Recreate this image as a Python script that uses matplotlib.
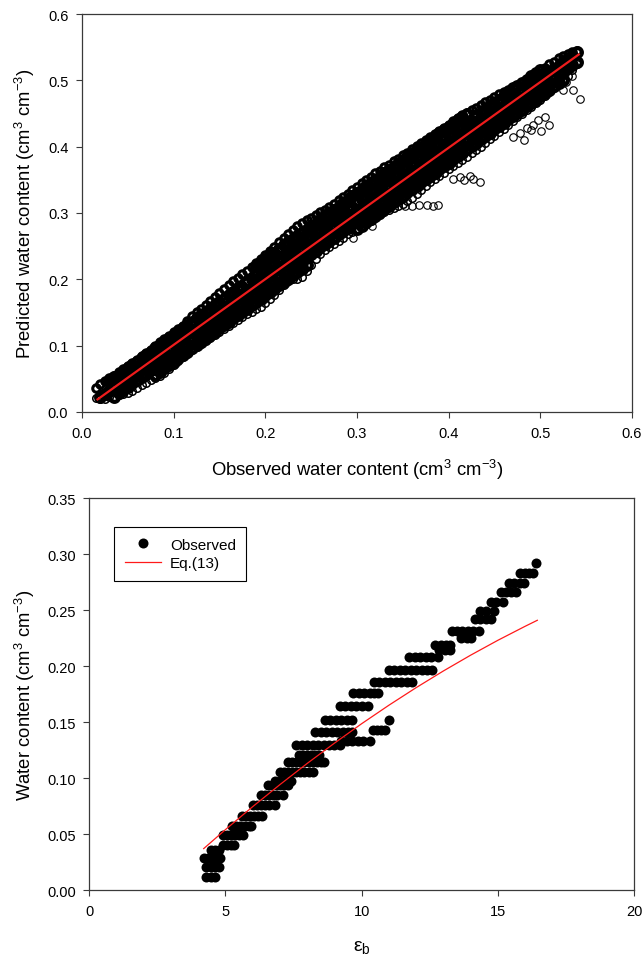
import numpy as np
import matplotlib.pyplot as plt
from matplotlib.lines import Line2D

plt.rcParams['font.family'] = ['Liberation Sans', 'DejaVu Sans']
plt.rcParams['mathtext.fontset'] = 'custom'
plt.rcParams['mathtext.rm'] = 'Liberation Sans'
plt.rcParams['mathtext.it'] = 'Liberation Sans:italic'

# ---------------- top panel: observed vs predicted (cm3 cm-3) ----------------
obs_wc = [0.015, 0.020, 0.025, 0.030, 0.035, 0.040, 0.045, 0.050, 0.055, 0.060,
          0.065, 0.070, 0.075, 0.080, 0.085, 0.090, 0.095, 0.100, 0.105, 0.110,
          0.115, 0.120, 0.125, 0.130, 0.135, 0.140, 0.145, 0.150, 0.155, 0.160,
          0.165, 0.170, 0.175, 0.180, 0.185, 0.190, 0.195, 0.200, 0.205, 0.210,
          0.215, 0.220, 0.225, 0.230, 0.235, 0.240, 0.245, 0.250, 0.255, 0.260,
          0.265, 0.270, 0.275, 0.280, 0.285, 0.290, 0.295, 0.300, 0.305, 0.310,
          0.315, 0.320, 0.325, 0.330, 0.335, 0.340, 0.345, 0.350, 0.355, 0.360,
          0.365, 0.370, 0.375, 0.380, 0.385, 0.390, 0.395, 0.400, 0.405, 0.410,
          0.415, 0.420, 0.425, 0.430, 0.435, 0.440, 0.445, 0.450, 0.455, 0.460,
          0.465, 0.470, 0.475, 0.480, 0.485, 0.490, 0.495, 0.500, 0.505, 0.510,
          0.515, 0.520, 0.525, 0.530, 0.535, 0.540]

# upper edge of the cloud
pred_top = [0.036, 0.042, 0.047, 0.051, 0.055, 0.060, 0.065, 0.069, 0.074, 0.079,
            0.084, 0.089, 0.094, 0.099, 0.105, 0.110, 0.115, 0.120, 0.125, 0.130,
            0.137, 0.144, 0.150, 0.156, 0.162, 0.168, 0.174, 0.180, 0.186, 0.191,
            0.197, 0.202, 0.208, 0.213, 0.219, 0.224, 0.230, 0.236, 0.242, 0.249,
            0.256, 0.262, 0.268, 0.275, 0.281, 0.285, 0.289, 0.293, 0.297, 0.301,
            0.305, 0.309, 0.314, 0.319, 0.324, 0.329, 0.334, 0.339, 0.345, 0.350,
            0.355, 0.360, 0.364, 0.369, 0.373, 0.378, 0.382, 0.387, 0.391, 0.396,
            0.401, 0.405, 0.410, 0.414, 0.419, 0.423, 0.428, 0.433, 0.438, 0.443,
            0.447, 0.451, 0.455, 0.459, 0.463, 0.467, 0.471, 0.475, 0.479, 0.482,
            0.485, 0.488, 0.492, 0.496, 0.501, 0.505, 0.510, 0.515, 0.519, 0.524,
            0.528, 0.533, 0.537, 0.540, 0.543, 0.544]

# lower edge of the cloud
pred_bot = [0.021, 0.020, 0.020, 0.022, 0.023, 0.025, 0.027, 0.029, 0.032, 0.036,
            0.040, 0.044, 0.048, 0.051, 0.055, 0.059, 0.065, 0.071, 0.077, 0.083,
            0.088, 0.093, 0.098, 0.102, 0.107, 0.111, 0.116, 0.120, 0.125, 0.129,
            0.134, 0.139, 0.143, 0.147, 0.151, 0.155, 0.159, 0.164, 0.170, 0.177,
            0.184, 0.191, 0.198, 0.200, 0.201, 0.204, 0.212, 0.222, 0.231, 0.238,
            0.244, 0.249, 0.254, 0.258, 0.263, 0.268, 0.272, 0.276, 0.280, 0.284,
            0.288, 0.292, 0.297, 0.301, 0.305, 0.308, 0.311, 0.314, 0.318, 0.323,
            0.329, 0.335, 0.340, 0.346, 0.351, 0.356, 0.361, 0.366, 0.371, 0.376,
            0.380, 0.385, 0.390, 0.395, 0.400, 0.406, 0.411, 0.416, 0.422, 0.427,
            0.433, 0.438, 0.444, 0.449, 0.455, 0.460, 0.466, 0.471, 0.477, 0.482,
            0.488, 0.494, 0.500, 0.507, 0.515, 0.524]

# inner rows of the cloud (each starts at the given observed value)
row_a_start = 0.190
row_a = [0.220, 0.226, 0.230, 0.236, 0.240, 0.246, 0.251, 0.256, 0.261, 0.266,
         0.270, 0.275, 0.280, 0.284, 0.290, 0.295, 0.300, 0.305, 0.309, 0.315,
         0.320, 0.325, 0.330, 0.334, 0.340, 0.345, 0.350, 0.354, 0.360, 0.365,
         0.370, 0.374, 0.380, 0.385, 0.390, 0.394, 0.400, 0.405, 0.410, 0.414,
         0.420, 0.425, 0.430, 0.434, 0.440, 0.445, 0.450]
row_b_start = 0.030
row_b = [0.046, 0.052, 0.056, 0.061, 0.066, 0.071, 0.076, 0.081, 0.086, 0.091,
         0.096, 0.101, 0.106, 0.112, 0.116, 0.121, 0.126, 0.131, 0.136, 0.141,
         0.146, 0.151, 0.156, 0.161, 0.166, 0.171, 0.176, 0.181, 0.186, 0.189,
         0.196, 0.201, 0.206, 0.211, 0.216, 0.221, 0.226, 0.231, 0.236, 0.243,
         0.246, 0.251, 0.256, 0.261, 0.266, 0.271, 0.276, 0.281, 0.286, 0.291,
         0.296, 0.301, 0.306, 0.309, 0.316, 0.321, 0.326, 0.331, 0.336, 0.341,
         0.346, 0.351, 0.356, 0.361, 0.366, 0.371, 0.374, 0.381, 0.386, 0.391,
         0.396, 0.401, 0.406, 0.411, 0.416, 0.421, 0.426, 0.431, 0.436, 0.439,
         0.446, 0.451, 0.456, 0.461, 0.466, 0.471, 0.476, 0.481, 0.488, 0.491,
         0.496, 0.501, 0.506, 0.511, 0.516]
row_c_start = 0.020
row_c = [0.022, 0.027, 0.032, 0.037, 0.042, 0.047, 0.052, 0.057, 0.062, 0.067,
         0.072, 0.077, 0.082, 0.087, 0.092, 0.097, 0.102, 0.107, 0.112, 0.117,
         0.122, 0.127, 0.132, 0.137, 0.142, 0.147, 0.152, 0.157, 0.162, 0.167,
         0.172, 0.177, 0.182, 0.187, 0.192, 0.197, 0.202, 0.207, 0.212, 0.217,
         0.222, 0.227, 0.232, 0.237, 0.242, 0.247, 0.252, 0.257, 0.262, 0.267,
         0.272, 0.277, 0.282, 0.287, 0.292, 0.297, 0.302, 0.307, 0.312, 0.317,
         0.322, 0.327, 0.332, 0.337, 0.342, 0.347, 0.352, 0.357, 0.362, 0.367,
         0.372, 0.377, 0.382, 0.387, 0.392, 0.397, 0.402, 0.407, 0.412, 0.417,
         0.422, 0.427, 0.432, 0.437, 0.442, 0.447, 0.452, 0.457, 0.462, 0.467,
         0.472, 0.477, 0.482, 0.487, 0.492, 0.497, 0.502, 0.507, 0.512, 0.517,
         0.522, 0.527, 0.532, 0.537, 0.542]
row_d_start = 0.035
row_d = [0.023, 0.028, 0.033, 0.038, 0.043, 0.048, 0.053, 0.058, 0.063, 0.068,
         0.073, 0.078, 0.083, 0.088, 0.093, 0.098, 0.103, 0.108, 0.113, 0.118,
         0.123, 0.128, 0.133, 0.138, 0.143, 0.148, 0.153, 0.158, 0.163, 0.168,
         0.173, 0.178, 0.183, 0.188, 0.193, 0.198, 0.203, 0.208, 0.213, 0.218,
         0.223, 0.228, 0.233, 0.238, 0.243, 0.248, 0.253, 0.258, 0.263, 0.268,
         0.273, 0.278, 0.283, 0.288, 0.293, 0.298, 0.303, 0.308, 0.313, 0.318,
         0.323, 0.328, 0.333, 0.338, 0.343, 0.348, 0.353, 0.358, 0.363, 0.368,
         0.373, 0.378, 0.383, 0.388, 0.393, 0.398, 0.403, 0.408, 0.413, 0.418,
         0.423, 0.428, 0.433, 0.438, 0.443, 0.448, 0.453, 0.458, 0.463, 0.468,
         0.473, 0.478, 0.483, 0.488, 0.493, 0.498, 0.503, 0.508, 0.513, 0.518,
         0.523, 0.528]
row_e1_start = 0.080
row_e1 = [0.056, 0.061, 0.066, 0.071, 0.076, 0.081, 0.086, 0.091, 0.096, 0.101,
          0.106, 0.111, 0.116, 0.121, 0.126, 0.131, 0.136, 0.141, 0.146, 0.151,
          0.156, 0.161, 0.166, 0.171, 0.176, 0.181, 0.186, 0.191, 0.196, 0.201,
          0.206, 0.211, 0.216, 0.221]
row_e2_start = 0.300
row_e2 = [0.276, 0.281, 0.286, 0.291, 0.296, 0.301, 0.306, 0.311, 0.316, 0.321,
          0.326, 0.331, 0.336, 0.341, 0.346, 0.351, 0.356, 0.361, 0.366, 0.371,
          0.376, 0.381, 0.386, 0.391, 0.396, 0.401, 0.406, 0.411, 0.416, 0.421,
          0.426, 0.431, 0.436, 0.441, 0.446, 0.451, 0.456, 0.461, 0.466, 0.471,
          0.476, 0.481, 0.486, 0.491, 0.496, 0.501]

# loose points below the cloud
stray_obs = [0.296, 0.316, 0.352, 0.360, 0.368, 0.376, 0.383, 0.388,
             0.405, 0.412, 0.417, 0.423, 0.427, 0.434,
             0.470, 0.478, 0.482, 0.485, 0.490, 0.492, 0.498, 0.501, 0.505, 0.509,
             0.525, 0.528, 0.535, 0.536, 0.543]
stray_pred = [0.262, 0.281, 0.311, 0.311, 0.312, 0.312, 0.311, 0.312,
              0.352, 0.355, 0.350, 0.356, 0.351, 0.347,
              0.415, 0.420, 0.410, 0.428, 0.425, 0.432, 0.440, 0.424, 0.445, 0.432,
              0.485, 0.498, 0.507, 0.485, 0.472]

fit_obs = [0.017, 0.542]
fit_pred = [0.019, 0.539]

# ---------------- bottom panel: water content vs bulk permittivity ----------------
wc_levels = [0.012, 0.021, 0.029, 0.036, 0.040, 0.049, 0.057, 0.066, 0.076, 0.085,
             0.094, 0.097, 0.105, 0.114, 0.121, 0.130, 0.133, 0.141, 0.143, 0.152,
             0.164, 0.176, 0.186, 0.197, 0.208, 0.214, 0.219, 0.225, 0.231, 0.242,
             0.249, 0.257, 0.266, 0.274, 0.283, 0.292]
eps_runs = [
    [4.3, 4.45, 4.6],
    [4.3, 4.45, 4.6, 4.75],
    [4.2, 4.35, 4.5, 4.65, 4.8],
    [4.45, 4.6, 4.75],
    [4.9, 5.05, 5.2, 5.3],
    [4.9, 5.05, 5.2, 5.35, 5.5, 5.65],
    [5.25, 5.4, 5.55, 5.7, 5.85, 5.95],
    [5.6, 5.75, 5.9, 6.05, 6.2, 6.35],
    [6.0, 6.15, 6.3, 6.45, 6.6, 6.8],
    [6.3, 6.45, 6.6, 6.75, 6.9, 7.1],
    [6.55, 6.7, 6.85, 7.0, 7.15, 7.3],
    [6.8, 7.0, 7.2, 7.4],
    [7.0, 7.15, 7.3, 7.45, 7.6, 7.75, 7.9, 8.05, 8.2],
    [7.3, 7.45, 7.6, 7.75, 7.9, 8.05, 8.2, 8.35, 8.5, 8.6],
    [7.7, 7.85, 8.0, 8.15, 8.3, 8.45],
    [7.6, 7.8, 8.0, 8.2, 8.4, 8.6, 8.8, 9.0, 9.2],
    [9.25, 9.45, 9.65, 9.85, 10.05, 10.3],
    [8.3, 8.5, 8.7, 8.9, 9.1, 9.3, 9.5, 9.65],
    [10.4, 10.55, 10.7, 10.85],
    [8.65, 8.85, 9.05, 9.25, 9.45, 9.65, 11.0],
    [9.2, 9.4, 9.6, 9.8, 10.0, 10.25],
    [9.7, 9.9, 10.1, 10.3, 10.45, 10.6],
    [10.45, 10.65, 10.85, 11.05, 11.25, 11.45, 11.65, 11.85],
    [11.0, 11.2, 11.4, 11.6, 11.8, 12.0, 12.2, 12.4, 12.6],
    [11.75, 11.95, 12.15, 12.35, 12.55, 12.8],
    [12.85, 13.05, 13.25],
    [12.7, 12.9, 13.1, 13.25],
    [13.65, 13.85, 14.0],
    [13.3, 13.5, 13.7, 13.9, 14.1, 14.3],
    [14.15, 14.35, 14.55, 14.75],
    [14.35, 14.55, 14.85],
    [14.75, 14.95, 15.2],
    [15.1, 15.3, 15.5, 15.65],
    [15.4, 15.6, 15.8, 15.95],
    [15.8, 16.0, 16.15, 16.3],
    [16.4],
]

eq13_eps = [4.2, 5.0, 6.0, 7.0, 8.0, 9.0, 10.0, 11.0, 12.0, 13.0, 14.0, 15.0, 16.0, 16.45]
eq13_wc = [0.037, 0.054, 0.0745, 0.0942, 0.1131, 0.1312, 0.1486, 0.1651, 0.1808,
           0.1957, 0.2098, 0.2231, 0.2356, 0.241]

spine_col = '#3a3a3a'


def style_axes(ax):
    for s in ax.spines.values():
        s.set_color(spine_col)
        s.set_linewidth(0.9)
    ax.tick_params(direction='out', length=4.3, width=0.8, color=spine_col,
                   labelsize=10.5, pad=5.5, top=False, right=False)


fig = plt.figure(figsize=(6.44, 9.62), dpi=100)

# top panel
ax1 = fig.add_axes([0.1273, 0.5707, 0.854, 0.4137])
circ = dict(marker='o', linestyle='none', markerfacecolor='none', markeredgecolor='black')
ax1.plot(obs_wc, pred_top, ms=5.4, mew=2.2, **circ)
for start, row in [(row_a_start, row_a), (row_b_start, row_b), (row_c_start, row_c),
                   (row_d_start, row_d), (row_e1_start, row_e1), (row_e2_start, row_e2)]:
    i0 = obs_wc.index(start)
    ax1.plot(obs_wc[i0:i0 + len(row)], row, ms=6.3, mew=3.0, **circ)
ax1.plot(obs_wc, pred_bot, ms=5.4, mew=1.1, **circ)
ax1.plot(stray_obs, stray_pred, ms=5.4, mew=0.8, **circ)
ax1.plot(fit_obs, fit_pred, color='#ee1c1c', lw=1.6, zorder=5)

ax1.set_xlim(0, 0.6)
ax1.set_ylim(0, 0.6)
ax1.set_xticks(np.arange(0, 0.61, 0.1))
ax1.set_yticks(np.arange(0, 0.61, 0.1))
ax1.xaxis.set_major_formatter(plt.FormatStrFormatter('%.1f'))
ax1.yaxis.set_major_formatter(plt.FormatStrFormatter('%.1f'))
style_axes(ax1)
ax1.set_xlabel('Observed water content (cm$^3$ cm$^{-3}$)', fontsize=13.3, va='center')
ax1.xaxis.set_label_coords(0.5, -0.142)
ax1.set_ylabel('Predicted water content (cm$^3$ cm$^{-3}$)', fontsize=13.3, va='center')
ax1.yaxis.set_label_coords(-0.1045, 0.5)

# bottom panel
ax2 = fig.add_axes([0.1387, 0.0738, 0.8458, 0.4072])
for lev, run in zip(wc_levels, eps_runs):
    ax2.plot(run, [lev] * len(run), marker='o', linestyle='none', ms=7.2,
             mfc='black', mec='black', mew=0)
ax2.plot(eq13_eps, eq13_wc, color='#ff1a1a', lw=0.9, zorder=5)

ax2.set_xlim(0, 20)
ax2.set_ylim(0, 0.35)
ax2.set_xticks([0, 5, 10, 15, 20])
ax2.set_yticks(np.arange(0, 0.351, 0.05))
ax2.yaxis.set_major_formatter(plt.FormatStrFormatter('%.2f'))
style_axes(ax2)
ax2.set_xlabel(r'ε$_\mathregular{b}$', fontsize=14, va='center')
ax2.xaxis.set_label_coords(0.5, -0.143)
ax2.set_ylabel('Water content (cm$^3$ cm$^{-3}$)', fontsize=13.3, va='center')
ax2.yaxis.set_label_coords(-0.1188, 0.5)

handles = [Line2D([], [], marker='o', linestyle='none', ms=7.2, mfc='black', mec='black', mew=0),
           Line2D([], [], color='#ff1a1a', lw=0.9)]
leg = ax2.legend(handles, ['Observed', 'Eq.(13)'], loc='upper left',
                 bbox_to_anchor=(0.0453, 0.9267), borderaxespad=0, fontsize=11,
                 handlelength=2.4, handletextpad=0.55, borderpad=0.7, labelspacing=0.3,
                 fancybox=False, framealpha=1, edgecolor='black', numpoints=1)
leg.get_frame().set_linewidth(0.8)

fig.savefig('out.png', dpi=100)
